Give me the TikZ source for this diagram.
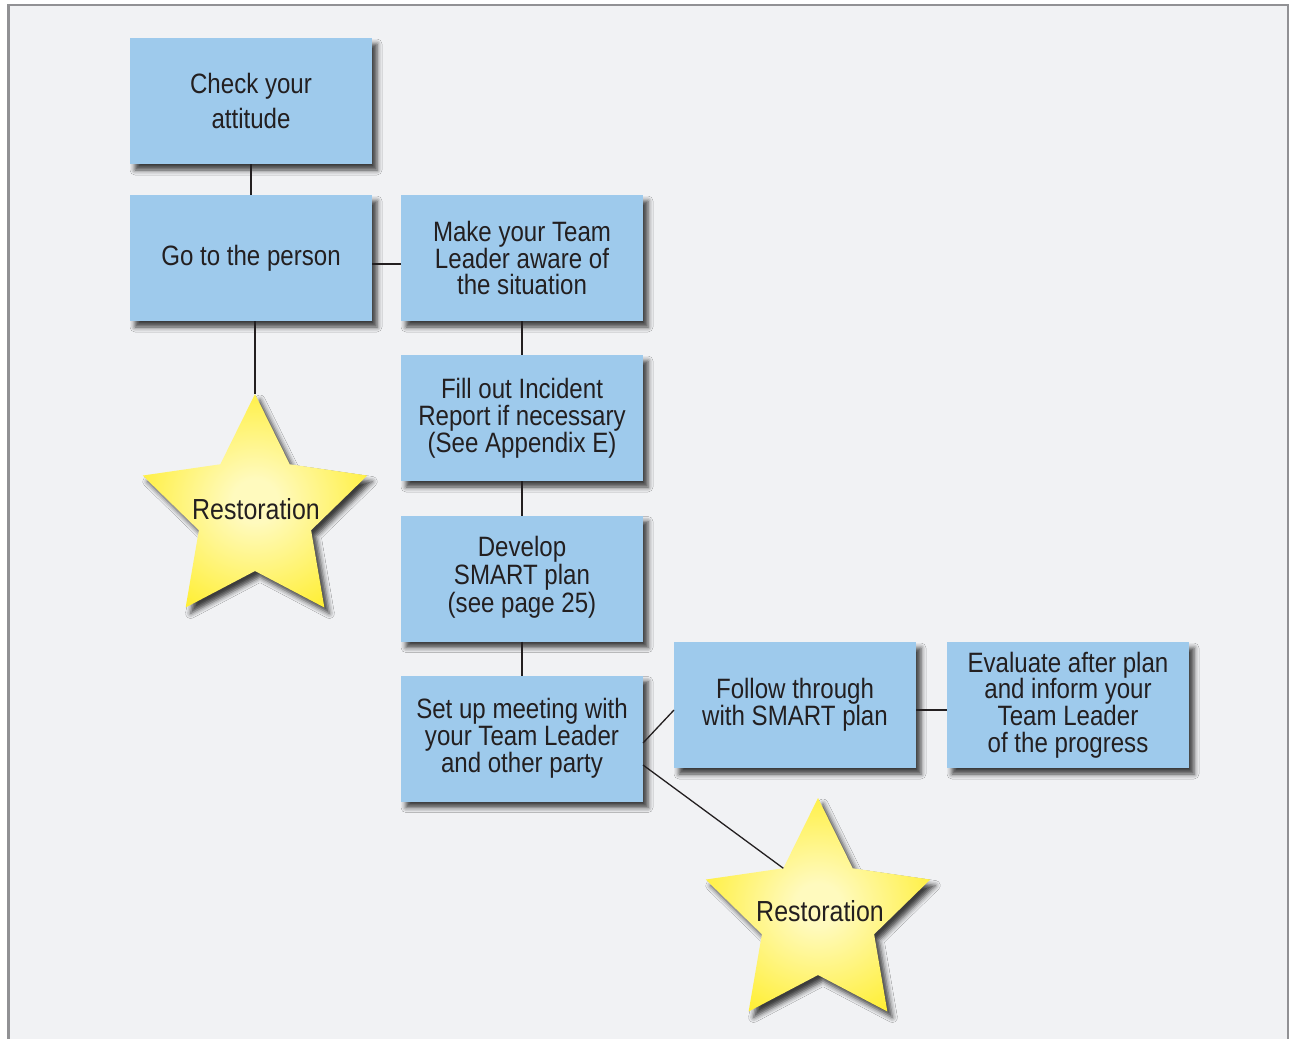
\documentclass[tikz,border=0pt]{standalone}
\usepackage{fontspec}
\setmainfont{Liberation Sans}[FakeStretch=0.86]
\usetikzlibrary{shapes.geometric,shadows.blur,calc}
\definecolor{bgpanel}{RGB}{241,242,244}
\definecolor{framegray}{RGB}{145,145,148}
\definecolor{boxblue}{RGB}{158,202,236}
\definecolor{inktext}{RGB}{35,31,32}
\definecolor{starin}{RGB}{255,250,190}
\definecolor{starout}{RGB}{255,238,45}
\pgfdeclareradialshading{starshade}{\pgfpoint{0bp}{0bp}}{color(0bp)=(starin); color(5bp)=(starin); color(30bp)=(starout); color(50bp)=(starout)}
\tikzset{
  stepbox/.style={rectangle, fill=boxblue, draw=none, minimum width=242pt, minimum height=126pt,
    inner sep=0pt, outer sep=0pt, align=center, text=inktext,
    font=\fontsize{28}{26.8}\selectfont,
    blur shadow={shadow xshift=5pt, shadow yshift=-6pt, shadow blur radius=5pt, shadow opacity=75}},
  starbox/.style={star, star points=5, star point ratio=2, minimum size=236pt, inner sep=0pt, outer sep=0pt,
    draw=none, shading=starshade,
    blur shadow={shadow xshift=5pt, shadow yshift=-6pt, shadow blur radius=5pt, shadow opacity=75}},
  startext/.style={text=inktext, font=\fontsize{29}{28}\selectfont, inner sep=0pt},
  link/.style={draw=inktext, line width=1.3pt}
}
\begin{document}
\begin{tikzpicture}[x=1pt,y=-1pt]
\useasboundingbox (0,0) rectangle (1289,1038);
\fill[white] (0,0) rectangle (1289,1038);
\filldraw[fill=bgpanel, draw=framegray, line width=2.5pt] (8.3,5) rectangle (1288,1060);

\node[stepbox, font=\fontsize{28}{35}\selectfont] (check) at (251,101) {Check your\\attitude};
\node[stepbox] (go) at (251,258) {Go to the person};
\node[stepbox] (make) at (522,258) {Make your Team\\Leader aware of\\the situation};
\node[stepbox] (fill) at (522,418) {Fill out Incident\\Report if necessary\\(See Appendix E)};
\node[stepbox] (dev) at (522,578.5) {\raisebox{5pt}{\begin{tabular}{@{}c@{}}Develop\\SMART plan\\(see page 25)\end{tabular}}};
\node[stepbox] (setup) at (522,738.5) {Set up meeting with\\your Team Leader\\and other party};
\node[stepbox] (follow) at (795,705) {Follow through\\with SMART plan};
\node[stepbox] (eval) at (1068,705) {Evaluate after plan\\and inform your\\Team Leader\\of the progress};

\node[starbox] (star1) at (255,512) {};
\node[startext] (star1txt) at (256,509) {Restoration};
\node[starbox] (star2) at (818,916) {};
\node[startext] (star2txt) at (820,911) {Restoration};

\draw[link] (check) -- (go);
\draw[link] ([yshift=-6pt]go.east) -- ([yshift=-6pt]make.west);
\draw[link] (star1.outer point 1 |- go.south) -- (star1.outer point 1);
\draw[link] (make) -- (fill);
\draw[link] (fill) -- (dev);
\draw[link] (dev) -- (setup);
\draw[link] ([yshift=-4.5pt]setup.east) -- ([yshift=-5pt]follow.west);
\draw[link] ([yshift=-5pt]follow.east) -- ([yshift=-5pt]eval.west);
\draw[link] ([yshift=-26.5pt]setup.east) -- (star2.inner point 1);
\end{tikzpicture}
\end{document}
